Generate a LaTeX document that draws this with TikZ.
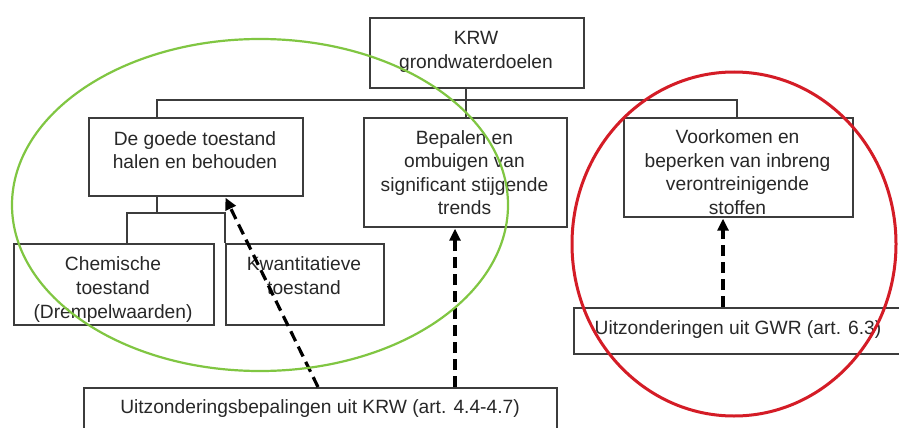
\documentclass[tikz,border=0pt]{standalone}
\usepackage{fontspec}
\setmainfont{Liberation Sans}
\usetikzlibrary{arrows.meta,calc}
\definecolor{boxline}{RGB}{60,60,60}
\definecolor{txtc}{RGB}{40,40,40}
\definecolor{grn}{RGB}{128,198,66}
\definecolor{rd}{RGB}{212,28,38}
\tikzset{
  boxnode/.style={draw=boxline, line width=1.7pt, inner sep=0pt, anchor=north west},
  txtnode/.style={text=txtc, align=center, inner sep=0pt, anchor=north,
    font=\fontsize{19.2}{23.5}\selectfont},
  conn/.style={draw=boxline, line width=1.5pt},
  dasharrow/.style={draw=black, line width=3.2pt, dash pattern=on 11pt off 6pt,
    -{Triangle[length=12pt,width=11pt]}, shorten >=1pt}
}
\begin{document}
\begin{tikzpicture}[x=1pt,y=-1pt]
\useasboundingbox (0,0) rectangle (899,428);
\clip (0,0) rectangle (899,428);
\fill[white] (0,0) rectangle (899,428);
% boxes
\node[boxnode, minimum width=214pt, minimum height=70pt] (krw) at (369,17) {};
\node[boxnode, minimum width=214pt, minimum height=78pt] (goede) at (88,117) {};
\node[boxnode, minimum width=203pt, minimum height=109pt] (bepalen) at (363,117) {};
\node[boxnode, minimum width=229pt, minimum height=99pt] (voork) at (623,117) {};
\node[boxnode, minimum width=200pt, minimum height=81pt] (chem) at (13,243) {};
\node[boxnode, minimum width=158pt, minimum height=81pt] (kwant) at (225,243) {};
\node[boxnode, minimum width=473pt, minimum height=70pt] (uitz) at (83,387) {};
\node[boxnode, minimum width=340pt, minimum height=46pt] (gwr) at (573,307) {};
% texts
\node[txtnode, font=\fontsize{19.2}{24}\selectfont] (krwt) at (476,31) {KRW\\grondwaterdoelen};
\node[txtnode] (goedet) at (195,131) {De goede toestand\\halen en behouden};
\node[txtnode] (bepalent) at (464.5,130) {Bepalen en\\ombuigen van\\significant stijgende\\trends};
\node[txtnode] (voorkt) at (737.5,129.5) {Voorkomen en\\beperken van inbreng\\verontreinigende\\stoffen};
\node[txtnode, font=\fontsize{19.2}{24}\selectfont] (chemt) at (113,256) {Chemische\\toestand\\(Drempelwaarden)};
\node[txtnode, font=\fontsize{19.2}{24}\selectfont] (kwantt) at (304,256) {Kwantitatieve\\toestand};
\node[txtnode] (uitzt) at (320,399) {Uitzonderingsbepalingen uit KRW (art. 4.4-4.7)};
\node[txtnode] (gwrt) at (738,320.5) {Uitzonderingen uit GWR (art. 6.3)};
% tree connectors
\coordinate (bus) at (466,100);
\coordinate (sub) at (157,213);
\draw[conn] ($(krw.south west)+(97,0)$) -- ($(bepalen.north west)+(103,0)$);
\draw[conn] ($(goede.north west)+(69,0)$) |- (bus) -| ($(voork.north west)+(114,0)$);
\draw[conn] ($(goede.south west)+(69,0)$) -- (sub);
\draw[conn] ($(chem.north west)+(114,0)$) |- (sub) -| (kwant.north west);
% dashed arrows
\draw[dasharrow] ($(uitz.north west)+(235,0)$) -- ($(goede.south west)+(137,0)$);
\draw[dasharrow] ($(uitz.north west)+(372,0)$) -- ($(bepalen.south west)+(92,0)$);
\draw[dasharrow] ($(gwr.north west)+(150,0)$) -- ($(voork.south west)+(100,0)$);
% ellipses
\draw[grn, line width=2.2pt] (260,205) ellipse [x radius=248, y radius=166];
\draw[rd, line width=3pt] (734,244) ellipse [x radius=162, y radius=172];
\end{tikzpicture}
\end{document}
